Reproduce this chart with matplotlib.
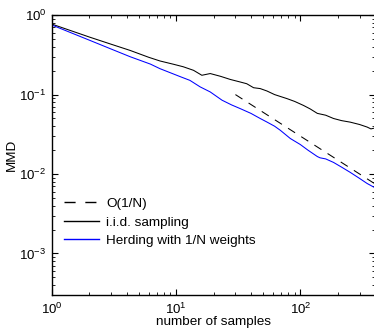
import matplotlib
matplotlib.use("Agg")
import matplotlib.pyplot as plt
from matplotlib.ticker import LogLocator, NullFormatter

plt.rcParams['font.family'] = ['Liberation Sans', 'DejaVu Sans']
plt.rcParams['mathtext.default'] = 'regular'

# %% data (log-log)
n_rate = [30, 400]
mmd_rate = [0.1, 0.0075]

n_iid = [1, 2, 3, 4.25, 6, 7.4, 9.5, 11.4, 13.8, 16.1, 18.8, 22.7, 27.3, 32.8,
         37, 42, 47.5, 53.8, 62, 70, 78, 90, 106, 120, 137, 160, 185, 215,
         252, 300, 345, 370, 400]
mmd_iid = [0.77, 0.53, 0.43, 0.36, 0.295, 0.265, 0.241, 0.224, 0.202, 0.175,
           0.184, 0.170, 0.155, 0.144, 0.137, 0.122, 0.119, 0.111, 0.100,
           0.094, 0.089, 0.082, 0.073, 0.066, 0.058, 0.055, 0.050, 0.047,
           0.045, 0.042, 0.039, 0.037, 0.038]

n_herd = [1, 2, 3, 4.25, 6.2, 7.4, 10.8, 12.9, 15.6, 18.8, 23.4, 28, 32.8, 40,
          47.5, 54, 62, 69, 83, 100, 115, 137, 144, 160, 185, 215, 252, 300,
          345, 400]
mmd_herd = [0.75, 0.484, 0.374, 0.30, 0.242, 0.212, 0.168, 0.151, 0.125,
            0.108, 0.085, 0.074, 0.0666, 0.058, 0.050, 0.045, 0.040, 0.0355,
            0.028, 0.0235, 0.020, 0.0166, 0.016, 0.0155, 0.014, 0.0122,
            0.0105, 0.0088, 0.0076, 0.0067]

# %% figure
fig = plt.figure(figsize=(3.74, 3.32), dpi=100)
ax = fig.add_axes([0.139, 0.1114, 0.864, 0.843])

ax.plot(n_rate, mmd_rate, color='k', lw=0.75, ls=(0, (8, 7)), label='O(1/N)')
ax.plot(n_iid, mmd_iid, color='k', lw=0.75, label='i.i.d. sampling')
ax.plot(n_herd, mmd_herd, color='#0000ff', lw=0.75, label='Herding with 1/N weights')

ax.set_xscale('log')
ax.set_yscale('log')
ax.set_xlim(1, 400)
ax.set_ylim(3e-4, 1)

ax.xaxis.set_major_locator(LogLocator(base=10, numticks=10))
ax.yaxis.set_major_locator(LogLocator(base=10, numticks=10))
ax.xaxis.set_minor_locator(LogLocator(base=10, subs=range(2, 10), numticks=20))
ax.yaxis.set_minor_locator(LogLocator(base=10, subs=range(2, 10), numticks=20))
ax.xaxis.set_minor_formatter(NullFormatter())
ax.yaxis.set_minor_formatter(NullFormatter())

ax.tick_params(which='both', direction='in', top=True, right=True, labelsize=9.5)
ax.tick_params(which='major', length=4, width=0.8)
ax.tick_params(which='minor', length=2, width=0.6)
ax.tick_params(axis='x', pad=5)
ax.tick_params(axis='y', pad=4)
for s in ax.spines.values():
    s.set_linewidth(1.0)

ax.set_xlabel('number of samples', fontsize=9.7, labelpad=-1)
ax.set_ylabel('MMD', fontsize=9.7, labelpad=1)

leg = ax.legend(loc='lower left', bbox_to_anchor=(0.02, 0.152), frameon=False,
                fontsize=9.7, handlelength=2.6, handletextpad=0.55,
                labelspacing=0.45, borderaxespad=0)
for line in leg.get_lines():
    line.set_linewidth(1.0)

fig.savefig('out.png', dpi=100)
